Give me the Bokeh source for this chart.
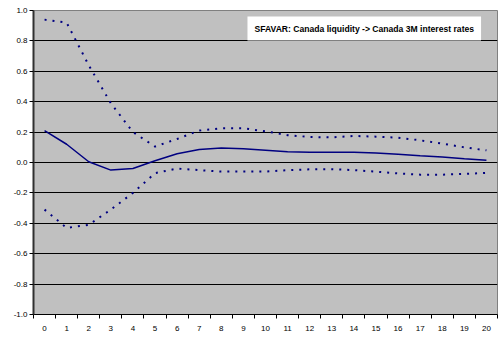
from bokeh.plotting import figure
from bokeh.models import FixedTicker, NumeralTickFormatter, Label, Range1d, ColumnDataSource
from bokeh.embed import file_html
from bokeh.resources import INLINE

# Data
horizon = list(range(21))
irf_mid = [0.21, 0.12, 0.005, -0.05, -0.04, 0.012, 0.058, 0.085, 0.095, 0.09, 0.08,
           0.07, 0.068, 0.068, 0.068, 0.062, 0.055, 0.045, 0.036, 0.025, 0.015]
irf_upper = [0.94, 0.92, 0.64, 0.39, 0.20, 0.105, 0.155, 0.21, 0.225, 0.225, 0.205,
             0.18, 0.168, 0.165, 0.175, 0.17, 0.163, 0.146, 0.124, 0.10, 0.08]
irf_lower = [-0.31, -0.43, -0.41, -0.31, -0.20, -0.07, -0.04, -0.05, -0.06, -0.06, -0.06,
             -0.05, -0.045, -0.044, -0.05, -0.06, -0.072, -0.08, -0.08, -0.075, -0.068]
y_ticks = [-1.0, -0.8, -0.6, -0.4, -0.2, 0.0, 0.2, 0.4, 0.6, 0.8, 1.0]
title_text = "SFAVAR: Canada liquidity -> Canada 3M interest rates"

src = ColumnDataSource(dict(h=horizon, mid=irf_mid, up=irf_upper, lo=irf_lower))

p = figure(frame_width=464, frame_height=304, output_backend="svg", toolbar_location=None,
           x_range=Range1d(-0.5, 20.5), y_range=Range1d(-1.0, 1.0),
           min_border_left=33, min_border_right=7, min_border_top=10, min_border_bottom=23)
p.background_fill_color = "#C0C0C0"
p.border_fill_color = "white"
p.outline_line_color = "#808080"
p.outline_line_width = 1

navy = "#000080"
p.line("h", "up", source=src, line_color=navy, line_width=2, line_dash="2 6")
p.line("h", "lo", source=src, line_color=navy, line_width=2, line_dash="2 6")
p.line("h", "mid", source=src, line_color=navy, line_width=1.5)

# axes
xa = p.xaxis[0]
xa.ticker = FixedTicker(ticks=horizon, minor_ticks=[i - 0.5 for i in range(22)])
xa.major_tick_out = 0
xa.major_tick_in = 0
xa.minor_tick_out = 4
xa.minor_tick_in = 0
xa.minor_tick_line_color = "black"
xa.axis_line_color = "black"
xa.axis_line_width = 1
xa.major_label_standoff = 7
xa.major_label_text_font = "Liberation Sans"
xa.major_label_text_font_size = "8px"
xa.major_label_text_color = "black"

ya = p.yaxis[0]
ya.ticker = FixedTicker(ticks=y_ticks)
ya.formatter = NumeralTickFormatter(format="0.0")
ya.major_tick_out = 4
ya.major_tick_in = 0
ya.minor_tick_line_color = None
ya.axis_line_color = "#303030"
ya.axis_line_width = 2
ya.major_label_standoff = 2
ya.major_label_text_font = "Liberation Sans"
ya.major_label_text_font_size = "8px"
ya.major_label_text_color = "black"

p.xgrid.grid_line_color = None
p.ygrid.ticker = FixedTicker(ticks=y_ticks[1:-1])
p.ygrid.grid_line_color = "black"
p.ygrid.grid_line_width = 1

lab = Label(x=14.47, y=0.881, text=title_text, text_align="center", text_baseline="middle",
            text_font="Liberation Sans", text_font_size="8.6px", text_font_style="bold",
            text_color="black", background_fill_color="white", padding=(7, 7, 7, 7))
p.add_layout(lab)

open("out.html", "w").write(file_html(p, INLINE))
